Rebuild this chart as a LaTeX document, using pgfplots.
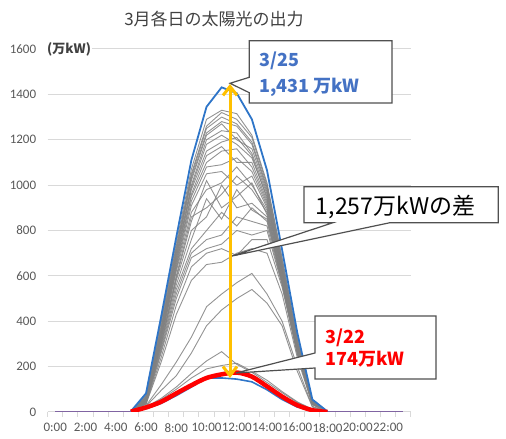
\documentclass[border=0pt]{standalone}
\usepackage{pgfplots}
\pgfplotsset{compat=1.18}
\usepackage{pgfplotstable}
\usepackage{fontspec}
\setmainfont{Carlito}
\newfontfamily\jp{Noto Sans CJK JP}
\usetikzlibrary{arrows.meta}
\definecolor{bluel}{RGB}{46,117,200}
\definecolor{grayl}{RGB}{128,128,128}
\definecolor{gridc}{RGB}{217,217,217}
\definecolor{tickc}{RGB}{89,89,89}
\definecolor{purp}{RGB}{128,100,162}
\definecolor{orng}{RGB}{255,192,0}
\definecolor{annblue}{RGB}{68,114,196}
\definecolor{boxc}{RGB}{80,80,80}
\definecolor{titlec}{RGB}{64,64,64}

\pgfplotstableread{
h g1 g2 g3 g4 g5 g6 g7 g8 g9 g10 g11 g12 g13 g14 g15 g16 g17 g18 g19 g20 g21 g22 g23 g24 g25 g26
5 2 2 2 1 1 1 1 1 1 1 1 1 1 1 1 1 1 1 1 1 1 1 1 1 1 1
6 78 72 70 66 64 60 62 58 55 54 52 50 50 48 47 45 44 42 40 38 36 34 28 25 22 20
7 400 395 380 370 365 360 350 345 340 335 330 320 320 310 300 300 290 280 270 260 240 220 120 95 60 55
8 745 730 720 710 700 690 680 670 660 650 640 630 620 600 590 580 560 540 520 500 470 430 220 160 110 100
9 1070 1050 1040 1030 1020 1000 990 980 960 950 930 910 880 860 840 800 760 720 700 680 640 580 330 260 170 150
10 1290 1260 1250 1230 1220 1200 1180 1150 1130 1100 1080 1050 980 900 1020 860 940 800 760 720 700 650 464 380 225 190
11 1330 1320 1300 1280 1270 1240 1220 1190 1170 1150 1090 1060 1010 960 900 1000 850 880 780 740 720 660 520 450 266 205
12 1315 1290 1270 1260 1200 1230 1180 1210 1100 1160 1120 1000 1080 1040 950 900 980 820 860 800 690 700 570 500 210 215
13 1220 1210 1190 1180 1160 1140 1120 1130 1100 1080 1060 1040 1000 980 1010 920 890 900 840 780 760 720 611 540 175 180
14 1010 1000 990 980 970 960 950 940 930 920 910 900 890 880 870 860 850 840 820 800 760 700 520 480 130 140
15 680 670 660 650 645 640 630 625 620 615 610 600 600 590 585 580 575 570 565 560 550 520 400 380 85 90
16 330 320 315 310 305 300 295 292 290 288 285 280 278 275 272 270 268 265 262 260 255 240 200 180 42 45
17 52 50 48 47 46 45 44 43 42 42 41 40 40 39 38 38 37 36 35 35 34 32 25 22 10 12
18 1 1 1 1 1 1 1 1 1 1 1 1 1 1 1 1 1 1 1 1 1 1 1 0 0 0
}\graydata

\pgfplotstableread{
h maxb minb red
5 3 1 2
6 82 15 20
7 420 38 45
8 770 72 82
9 1110 110 118
10 1345 150 150
11 1431 150 166
12 1405 145 174
13 1290 133 156
14 1065 98 113
15 714 55 68
16 350 22 30
17 55 6 8
18 2 0 0
}\maindata

\begin{document}
\begin{tikzpicture}
\path[use as bounding box] (0,0) rectangle (506pt,439pt);
\begin{axis}[
  at={(47.7pt,27pt)}, anchor=south west,
  scale only axis, width=363pt, height=363pt,
  xmin=-0.5, xmax=23.5, ymin=0, ymax=1600,
  axis x line=bottom, axis y line=left,
  axis line style={-},
  y axis line style={draw=none},
  x axis line style={draw=gridc, line width=1pt},
  ytick={0,200,...,1600},
  xtick={0,2,...,22},
  xticklabels={0:00,2:00,4:00,6:00,8:00,10:00,12:00,14:00,16:00,18:00,20:00,22:00},
  minor xtick={-0.5,0.5,...,23.5},
  major tick length=0pt,
  minor tick length=5pt,
  tick align=outside,
  minor tick style={draw=gridc, line width=1pt},
  ymajorgrids, grid style={draw=gridc, line width=1pt},
  /pgf/number format/assume math mode=true,
  /pgf/number format/1000 sep={},
  tick label style={font=\fontsize{13}{15}\selectfont, text=tickc},
  yticklabel style={xshift=-8pt},
  xticklabel style={yshift=-11pt, inner sep=0pt},
  every axis plot/.append style={no markers},
]
\pgfplotsinvokeforeach{1,...,26}{
  \addplot[draw=grayl, line width=0.9pt, opacity=0.85] table[x=h, y=g#1] {\graydata};
}
\addplot[draw=bluel, line width=1.6pt] table[x=h, y=minb] {\maindata};
\addplot[draw=bluel, line width=1.8pt] table[x=h, y=maxb] {\maindata};
\addplot[draw=red, line width=4.5pt, smooth] table[x=h, y=red] {\maindata};
\addplot[draw=purp, line width=2pt] coordinates {(0,0) (1,0) (2,0) (3,0) (4,0) (5,0)};
\addplot[draw=purp, line width=2pt] coordinates {(18,0) (19,0) (20,0) (21,0) (22,0) (23,0)};
\end{axis}
\begin{scope}[x=1pt,y=-1pt,shift={(0pt,439pt)}]
% title
\node[text=titlec, font=\jp\fontsize{17}{20}\selectfont] at (214,19) {3月各日の太陽光の出力};
% unit label
\node[fill=white, inner sep=1pt, anchor=west, text=titlec, font=\jp\bfseries\fontsize{13}{15}\selectfont] at (46,49) {(万kW)};
% box 1
\draw[fill=white, draw=boxc, line width=1.2pt] (249.3,40.7) -- (392,40.7) -- (392,103) -- (249.3,103) -- (249.3,92.7) -- (230,83.3) -- (249.3,77.3) -- cycle;
\node[anchor=base west, inner sep=0pt, text=annblue, font=\jp\bfseries\fontsize{18}{22}\selectfont] at (259,67) {3/25};
\node[anchor=base west, inner sep=0pt, text=annblue, font=\jp\bfseries\fontsize{18}{22}\selectfont] at (259,93) {1,431 万kW};
% box 2
\draw[fill=white, draw=boxc, line width=1.2pt] (304,186.7) -- (498.3,186.7) -- (498.3,222.7) -- (390,222.7) -- (232,256) -- (333,222.7) -- (304,222.7) -- cycle;
\node[anchor=base west, inner sep=0pt, text=black, font=\jp\fontsize{23}{26}\selectfont] at (315.7,214.3) {1,257万kWの差};
% box 3
\draw[fill=white, draw=boxc, line width=1.2pt] (315,316) -- (436,316) -- (436,379) -- (315,379) -- (315,368) -- (236,373) -- (315,353) -- cycle;
\node[anchor=base west, inner sep=0pt, text=red, font=\jp\bfseries\fontsize{18}{22}\selectfont] at (325,344) {3/22};
\node[anchor=base west, inner sep=0pt, text=red, font=\jp\bfseries\fontsize{18}{22}\selectfont] at (325,366) {174万kW};
% arrow
\draw[orng, line width=3pt, {Straight Barb[length=9pt,width=14pt]}-{Straight Barb[length=9pt,width=14pt]}] (230,84) -- (230,378);
\end{scope}
\end{tikzpicture}
\end{document}
